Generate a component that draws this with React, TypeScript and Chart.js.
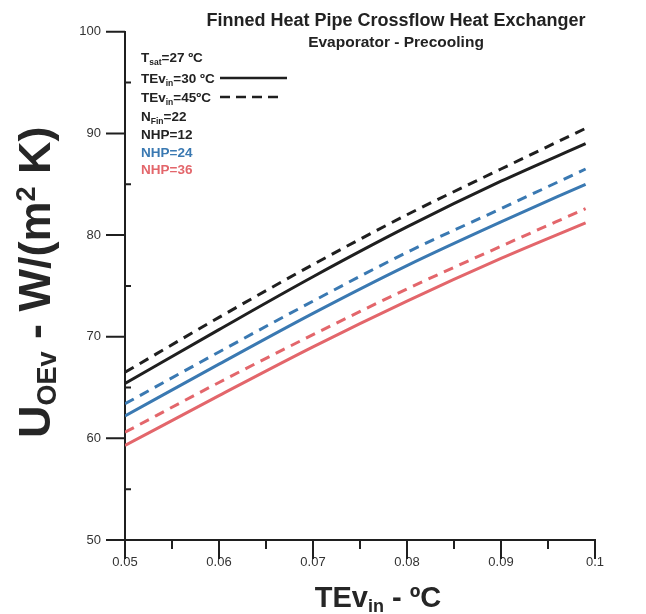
import React, { useEffect, useRef } from "react";
import { Chart, registerables } from "chart.js";

Chart.register(...registerables);

// x positions (TEv_in axis as labelled in the figure)
const xValues = [0.05, 0.06, 0.07, 0.08, 0.09, 0.099];

// U_OEv series: NHP = 12 / 24 / 36 ; TEv_in = 30 °C (solid) and 45 °C (dashed)
const nhp12_30 = [65.4, 70.7, 75.9, 80.8, 85.3, 89.0];
const nhp12_45 = [66.5, 71.9, 77.1, 82.0, 86.5, 90.5];
const nhp24_30 = [62.2, 67.3, 72.3, 77.0, 81.3, 85.0];
const nhp24_45 = [63.4, 68.5, 73.5, 78.3, 82.6, 86.5];
const nhp36_30 = [59.3, 64.2, 69.0, 73.5, 77.7, 81.2];
const nhp36_45 = [60.6, 65.5, 70.2, 74.7, 78.9, 82.6];

const yMajorTicks = [50, 60, 70, 80, 90, 100];
const yMinorTicks = [55, 65, 75, 85, 95];
const xMajorTicks = [0.05, 0.06, 0.07, 0.08, 0.09, 0.1];
const xMinorTicks = [0.055, 0.065, 0.075, 0.085, 0.095];

const titleText = "Finned Heat Pipe Crossflow Heat Exchanger";
const subtitleText = "Evaporator - Precooling";

const BLACK = "#1f1f1f";
const BLUE = "#3a79b2";
const RED = "#e3666b";
const FONT = '"Liberation Sans", Arial, sans-serif';

type Seg = { t: string; size: number; dy: number };

function drawSegs(ctx: CanvasRenderingContext2D, segs: Seg[], x: number, y: number) {
  let cx = x;
  for (const s of segs) {
    ctx.font = `bold ${s.size}px ${FONT}`;
    ctx.fillText(s.t, cx, y + s.dy);
    cx += ctx.measureText(s.t).width;
  }
  return cx;
}

const decorPlugin = {
  id: "decor",
  beforeDraw(chart: any) {
    const ctx = chart.ctx;
    ctx.save();
    ctx.fillStyle = "#ffffff";
    ctx.fillRect(0, 0, chart.width, chart.height);
    ctx.restore();
  },
  afterDraw(chart: any) {
    const ctx: CanvasRenderingContext2D = chart.ctx;
    const xs = chart.scales.x;
    const ys = chart.scales.y;
    const { left, bottom } = chart.chartArea;
    ctx.save();
    ctx.strokeStyle = BLACK;
    ctx.lineWidth = 2;
    ctx.beginPath();
    for (const v of yMajorTicks) {
      const p = ys.getPixelForValue(v);
      ctx.moveTo(left - 19, p);
      ctx.lineTo(left, p);
    }
    for (const v of yMinorTicks) {
      const p = ys.getPixelForValue(v);
      ctx.moveTo(left, p);
      ctx.lineTo(left + 6, p);
    }
    for (const v of xMajorTicks) {
      const p = xs.getPixelForValue(v);
      ctx.moveTo(p, bottom);
      ctx.lineTo(p, bottom + 19);
    }
    for (const v of xMinorTicks) {
      const p = xs.getPixelForValue(v);
      ctx.moveTo(p, bottom);
      ctx.lineTo(p, bottom + 9);
    }
    ctx.stroke();

    // Titles
    ctx.fillStyle = "#222";
    ctx.textBaseline = "alphabetic";
    ctx.textAlign = "center";
    ctx.font = `bold 18px ${FONT}`;
    ctx.fillText(titleText, 396, 26);
    ctx.font = `bold 15.5px ${FONT}`;
    ctx.fillText(subtitleText, 396, 47);

    // Legend block
    ctx.textAlign = "left";
    const lx = 141;
    const fs = 13.5;
    const ss = 8.5;
    ctx.fillStyle = "#222";
    drawSegs(ctx, [{ t: "T", size: fs, dy: 0 }, { t: "sat", size: ss, dy: 3 }, { t: "=27 ºC", size: fs, dy: 0 }], lx, 62);
    const e1 = drawSegs(ctx, [{ t: "TEv", size: fs, dy: 0 }, { t: "in", size: ss, dy: 3 }, { t: "=30 ºC", size: fs, dy: 0 }], lx, 83);
    drawSegs(ctx, [{ t: "TEv", size: fs, dy: 0 }, { t: "in", size: ss, dy: 3 }, { t: "=45ºC", size: fs, dy: 0 }], lx, 102);
    drawSegs(ctx, [{ t: "N", size: fs, dy: 0 }, { t: "Fin", size: ss, dy: 3 }, { t: "=22", size: fs, dy: 0 }], lx, 121);
    drawSegs(ctx, [{ t: "NHP=12", size: fs, dy: 0 }], lx, 139);
    ctx.fillStyle = BLUE;
    drawSegs(ctx, [{ t: "NHP=24", size: fs, dy: 0 }], lx, 157);
    ctx.fillStyle = RED;
    drawSegs(ctx, [{ t: "NHP=36", size: fs, dy: 0 }], lx, 174);

    ctx.strokeStyle = BLACK;
    ctx.lineWidth = 2.5;
    ctx.beginPath();
    ctx.moveTo(Math.max(e1 + 2, 220), 78);
    ctx.lineTo(287, 78);
    ctx.stroke();
    ctx.setLineDash([10, 6]);
    ctx.beginPath();
    ctx.moveTo(220, 97);
    ctx.lineTo(278, 97);
    ctx.stroke();
    ctx.setLineDash([]);

    // X axis title
    ctx.fillStyle = "#262626";
    const xt = [
      { t: "TEv", size: 29, dy: 0 },
      { t: "in", size: 18, dy: 5 },
      { t: " - ºC", size: 29, dy: 0 },
    ];
    let w = 0;
    for (const s of xt) {
      ctx.font = `bold ${s.size}px ${FONT}`;
      w += ctx.measureText(s.t).width;
    }
    drawSegs(ctx, xt, 378 - w / 2, 607);

    // Y axis title (rotated)
    ctx.translate(50, 438);
    ctx.rotate(-Math.PI / 2);
    drawSegs(
      ctx,
      [
        { t: "U", size: 45, dy: 0 },
        { t: "OEv", size: 27, dy: 6 },
        { t: " - W/(m", size: 45, dy: 0 },
        { t: "2", size: 27, dy: -15 },
        { t: " K)", size: 45, dy: 0 },
      ],
      0,
      0
    );
    ctx.restore();
  },
};

function mk(label: string, data: number[], color: string, dashed: boolean) {
  return {
    label,
    data: data.map((y, i) => ({ x: xValues[i], y })),
    borderColor: color,
    backgroundColor: color,
    borderWidth: 3,
    borderDash: dashed ? [10, 7] : [],
    pointRadius: 0,
    cubicInterpolationMode: "monotone" as const,
    fill: false,
  };
}

export default function App() {
  const ref = useRef<HTMLCanvasElement | null>(null);
  useEffect(() => {
    if (!ref.current) return;
    const chart = new Chart(ref.current, {
      type: "line",
      data: {
        datasets: [
          mk("NHP=12, TEv=45", nhp12_45, BLACK, true),
          mk("NHP=12, TEv=30", nhp12_30, BLACK, false),
          mk("NHP=24, TEv=45", nhp24_45, BLUE, true),
          mk("NHP=24, TEv=30", nhp24_30, BLUE, false),
          mk("NHP=36, TEv=45", nhp36_45, RED, true),
          mk("NHP=36, TEv=30", nhp36_30, RED, false),
        ],
      },
      options: {
        animation: false,
        responsive: false,
        devicePixelRatio: 1,
        layout: { padding: { left: 0, top: 17, right: 51, bottom: 0 } },
        plugins: { legend: { display: false }, title: { display: false }, tooltip: { enabled: false } },
        scales: {
          x: {
            type: "linear",
            min: 0.05,
            max: 0.1,
            grid: { display: false, drawTicks: false },
            border: { display: true, color: BLACK, width: 2 },
            ticks: {
              stepSize: 0.01,
              padding: 15,
              color: "#333",
              font: { family: FONT, size: 13 },
              callback: (v: any) => Number(v).toFixed(2).replace(/0$/, ""),
            },
            afterFit: (s: any) => {
              s.height = 74;
            },
          },
          y: {
            type: "linear",
            min: 50,
            max: 100,
            grid: { display: false, drawTicks: false },
            border: { display: true, color: BLACK, width: 2 },
            ticks: {
              stepSize: 10,
              padding: 24,
              color: "#333",
              font: { family: FONT, size: 13 },
            },
            afterFit: (s: any) => {
              s.width = 125;
            },
          },
        },
      },
      plugins: [decorPlugin],
    });
    return () => chart.destroy();
  }, []);
  return (
    <div style={{ position: "absolute", left: 0, top: 0, width: 646, height: 614 }}>
      <canvas ref={ref} width={646} height={614} style={{ width: 646, height: 614 }} />
    </div>
  );
}
